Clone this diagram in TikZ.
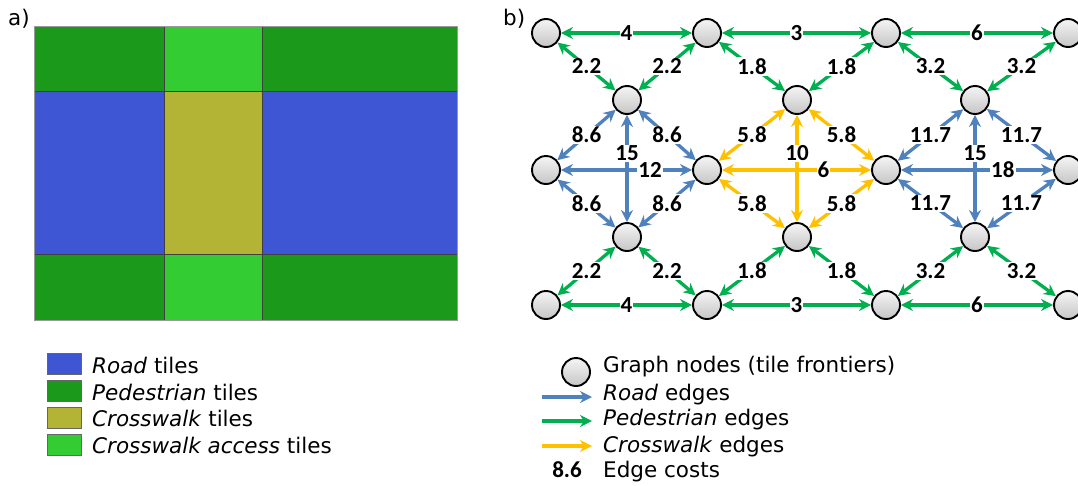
\documentclass[tikz,border=0pt]{standalone}
\usepackage{fontspec}
\setmainfont{DejaVu Sans}
\newfontfamily\costfont{Carlito}
\usetikzlibrary{arrows.meta,positioning}
\definecolor{croad}{HTML}{3F56D4}
\definecolor{cped}{HTML}{1A991A}
\definecolor{ccross}{HTML}{B3B335}
\definecolor{cacc}{HTML}{33CC33}
\definecolor{eroadc}{HTML}{4F81BD}
\definecolor{epedc}{HTML}{00B050}
\definecolor{ecrossc}{HTML}{FFC000}
\tikzset{
  tile/.style={draw=black!75,line width=0.7pt},
  swatch/.style={draw=black!60,line width=0.6pt,minimum width=34pt,minimum height=21pt,inner sep=0pt},
  gnode/.style={circle,draw=black,line width=1.9pt,minimum size=28pt,inner sep=0pt,
                top color=gray!8,bottom color=gray!45},
  edge/.style={{Stealth[length=12pt,width=12pt]}-{Stealth[length=12pt,width=12pt]},line width=3.3pt},
  eroad/.style={edge,draw=eroadc},
  eped/.style={edge,draw=epedc},
  ecross/.style={edge,draw=ecrossc},
  lflecha/.style={-{Stealth[length=12pt,width=12pt]},line width=3.3pt},
  cost/.style={font=\costfont\bfseries\fontsize{23}{23}\selectfont,fill=white,inner sep=1pt},
  ley/.style={font=\fontsize{21.5}{21.5}\selectfont,anchor=base west,inner sep=0pt},
}

\begin{document}
\begin{tikzpicture}[x=1pt,y=-1pt]
\clip (0,0) rectangle (1078,485);

% a) tiles
\node[ley] (la) at (8,25) {a)};
\fill[cped] (34,26) rectangle (164,91);
\fill[cacc] (164,26) rectangle (262,91);
\fill[cped] (262,26) rectangle (457,91);
\fill[croad] (34,91) rectangle (164,254);
\fill[ccross] (164,91) rectangle (262,254);
\fill[croad] (262,91) rectangle (457,254);
\fill[cped] (34,254) rectangle (164,320);
\fill[cacc] (164,254) rectangle (262,320);
\fill[cped] (262,254) rectangle (457,320);
\draw[tile] (34,91) -- (457,91) (34,254) -- (457,254) (164,26) -- (164,320) (262,26) -- (262,320);
\draw[draw=black!40,line width=0.6pt] (34,26) rectangle (457,320);

% a) legend
\node[swatch,fill=croad] (s1) at (64,364) {};
\node[swatch,fill=cped] (s2) at (64,391) {};
\node[swatch,fill=ccross] (s3) at (64,417.5) {};
\node[swatch,fill=cacc] (s4) at (64,444.5) {};
\node[ley] (t1) at (92,373) {\textit{Road} tiles};
\node[ley] (t2) at (92,400) {\textit{Pedestrian} tiles};
\node[ley] (t3) at (92,426) {\textit{Crosswalk} tiles};
\node[ley] (t4) at (92,453) {\textit{Crosswalk access} tiles};

% b) graph
\node[ley] (lb) at (503,25) {b)};
\node[gnode] (a1) at (546,33) {};
\node[gnode] (a2) at (707,33) {};
\node[gnode] (a3) at (886,33) {};
\node[gnode] (a4) at (1068,33) {};
\node[gnode] (u1) at (627,100) {};
\node[gnode] (u2) at (797,100) {};
\node[gnode] (u3) at (975,100) {};
\node[gnode] (m1) at (546,170) {};
\node[gnode] (m2) at (707,170) {};
\node[gnode] (m3) at (886,170) {};
\node[gnode] (m4) at (1068,170) {};
\node[gnode] (l1) at (627,237) {};
\node[gnode] (l2) at (797,237) {};
\node[gnode] (l3) at (975,237) {};
\node[gnode] (b1) at (546,305) {};
\node[gnode] (b2) at (707,305) {};
\node[gnode] (b3) at (886,305) {};
\node[gnode] (b4) at (1068,305) {};

\foreach \p/\q/\c in {a1/a2/4,a2/a3/3,a3/a4/6,b1/b2/4,b2/b3/3,b3/b4/6,
  a1/u1/2.2,a2/u1/2.2,a2/u2/1.8,a3/u2/1.8,a3/u3/3.2,a4/u3/3.2,
  b1/l1/2.2,b2/l1/2.2,b2/l2/1.8,b3/l2/1.8,b3/l3/3.2,b4/l3/3.2}
  {\draw[eped] (\p) -- node[cost]{\c} (\q);}
\foreach \p/\q/\c in {u1/m1/8.6,u1/m2/8.6,m1/l1/8.6,m2/l1/8.6,
  u3/m3/11.7,u3/m4/11.7,m3/l3/11.7,m4/l3/11.7}
  {\draw[eroad] (\p) -- node[cost]{\c} (\q);}
\foreach \p/\q/\c in {u2/m2/5.8,u2/m3/5.8,m2/l2/5.8,m3/l2/5.8}
  {\draw[ecross] (\p) -- node[cost]{\c} (\q);}
\draw[eroad] (u1) -- node[cost,pos=0.36]{15} (l1);
\draw[eroad] (m1) -- node[cost,pos=0.68]{12} (m2);
\draw[eroad] (u3) -- node[cost,pos=0.36]{15} (l3);
\draw[eroad] (m3) -- node[cost,pos=0.67]{18} (m4);
\draw[ecross] (u2) -- node[cost,pos=0.36]{10} (l2);
\draw[ecross] (m2) -- node[cost,pos=0.68]{6} (m3);

% b) legend
\node[gnode] (lg) at (576,372) {};
\coordinate (r0) at (542,397); \coordinate (r1) at (592,397);
\coordinate (p0) at (542,421); \coordinate (p1) at (592,421);
\coordinate (c0) at (542,446); \coordinate (c1) at (592,446);
\draw[lflecha,draw=eroadc] (r0) -- (r1);
\draw[lflecha,draw=epedc] (p0) -- (p1);
\draw[lflecha,draw=ecrossc] (c0) -- (c1);
\node[cost,fill=none,anchor=base] (lc) at (567,477) {8.6};
\node[ley] (g1) at (603,372) {Graph nodes (tile frontiers)};
\node[ley] (g2) at (603,400) {\textit{Road} edges};
\node[ley] (g3) at (603,425) {\textit{Pedestrian} edges};
\node[ley] (g4) at (603,452) {\textit{Crosswalk} edges};
\node[ley] (g5) at (603,477) {Edge costs};

\end{tikzpicture}
\end{document}
